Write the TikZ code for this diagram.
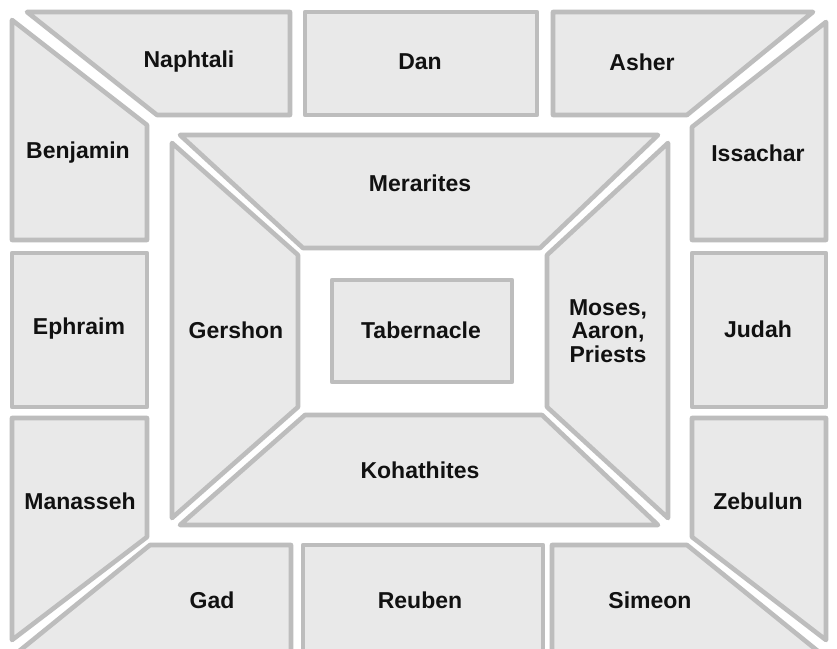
\documentclass[tikz,border=0pt]{standalone}
\usepackage{fontspec}
\setmainfont{Liberation Sans}
\usepackage{xcolor}
\usepackage{tikz}
\definecolor{campfill}{HTML}{E9E9E9}
\definecolor{campline}{HTML}{BDBDBD}
\definecolor{campink}{HTML}{111111}
\tikzstyle{camp} = [draw=campline, fill=campfill, line width=4.6pt, line join=round]
\tikzstyle{tribe} = [text=campink, font=\fontsize{23}{23.5}\selectfont\bfseries, align=center, inner sep=0pt]

\begin{document}
\begin{tikzpicture}[x=1pt, y=-1pt]
    \useasboundingbox[fill=white] (0,0) rectangle (837,648);
    % outer ring of tribes
    \draw[camp] (27,12) -- (290,12) -- (290,115) -- (157,115) -- cycle;
    \draw[camp] (305,12) rectangle (537,115);
    \draw[camp] (553,12) -- (813,12) -- (687,115) -- (553,115) -- cycle;
    \draw[camp] (12,20) -- (147,125) -- (147,240) -- (12,240) -- cycle;
    \draw[camp] (826,22) -- (826,240) -- (692,240) -- (692,127) -- cycle;
    \draw[camp] (12,253) rectangle (147,407);
    \draw[camp] (692,253) rectangle (826,407);
    \draw[camp] (12,418) -- (147,418) -- (147,537) -- (12,640) -- cycle;
    \draw[camp] (826,418) -- (826,640) -- (692,537) -- (692,418) -- cycle;
    \draw[camp] (150,545) -- (291,545) -- (291,652) -- (18,652) -- cycle;
    \draw[camp] (303,545) rectangle (543,652);
    \draw[camp] (552,545) -- (687,545) -- (819,652) -- (552,652) -- cycle;
    % levites
    \draw[camp] (180,135) -- (658,135) -- (540,248) -- (303,248) -- cycle;
    \draw[camp] (172,143) -- (298,255) -- (298,407) -- (172,518) -- cycle;
    \draw[camp] (668,143) -- (668,518) -- (547,407) -- (547,255) -- cycle;
    \draw[camp] (305,415) -- (542,415) -- (658,525) -- (180,525) -- cycle;
    \draw[camp] (332,280) rectangle (512,382);

    \node[tribe] (naphtali) at (189,62) {Naphtali};
    \node[tribe] (dan) at (420,62) {Dan};
    \node[tribe] (asher) at (642,62) {Asher};
    \node[tribe] (benjamin) at (78,153) {Benjamin};
    \node[tribe] (issachar) at (758,153) {Issachar};
    \node[tribe] (merarites) at (420,183) {Merarites};
    \node[tribe] (ephraim) at (79,329) {Ephraim};
    \node[tribe] (gershon) at (236,330) {Gershon};
    \node[tribe] (tabernacle) at (421,330) {Tabernacle};
    \node[tribe] (moses) at (608,331) {Moses,\\Aaron,\\Priests};
    \node[tribe] (judah) at (758,329) {Judah};
    \node[tribe] (manasseh) at (80,501) {Manasseh};
    \node[tribe] (kohathites) at (420,470) {Kohathites};
    \node[tribe] (zebulun) at (758,501) {Zebulun};
    \node[tribe] (gad) at (212,600) {Gad};
    \node[tribe] (reuben) at (420,600) {Reuben};
    \node[tribe] (simeon) at (650,600) {Simeon};
\end{tikzpicture}
\end{document}
